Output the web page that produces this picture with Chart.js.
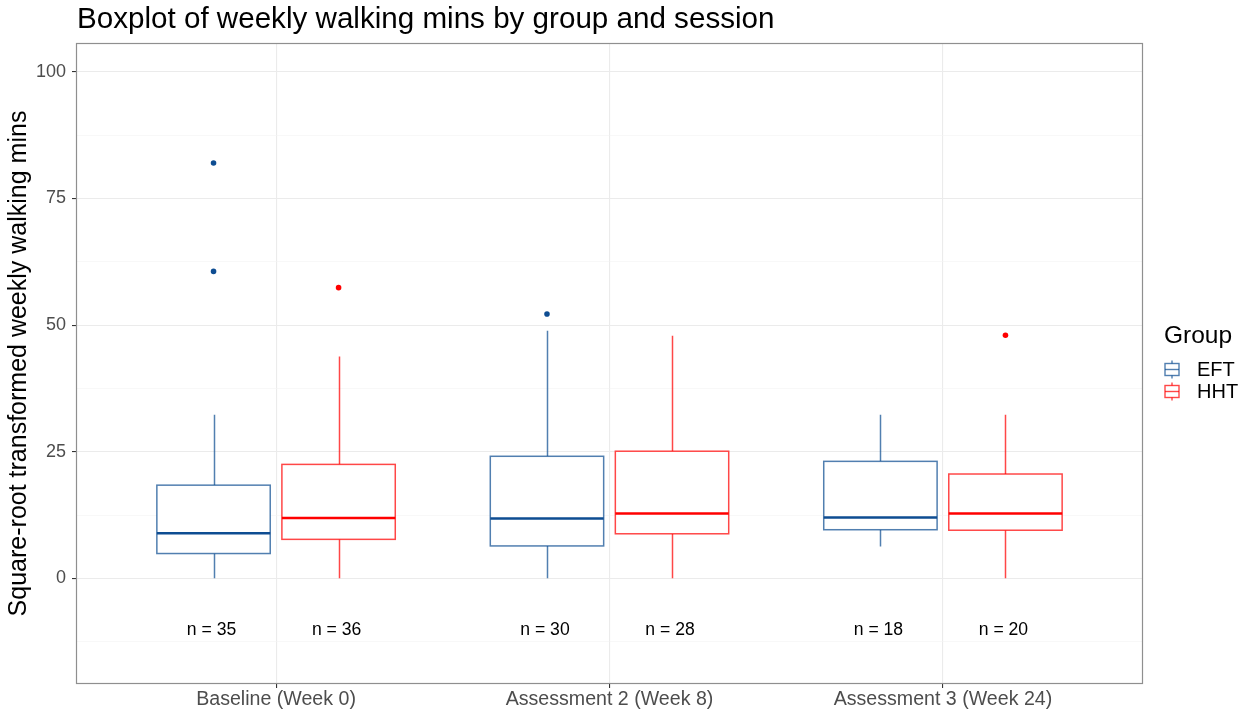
<!DOCTYPE html>
<html lang="en">
<head>
    <meta charset="UTF-8">
    <title>boxplot</title>
    <script src="https://cdn.jsdelivr.net/npm/chart.js"></script>
    <style>
        html, body { margin: 0; padding: 0; background: #fff; }
        #wrap { width: 1254px; height: 714px; }
    </style>
</head>
<body>
<div id="wrap"><canvas id="boxChart" width="1254" height="714"></canvas></div>
<script>
    // categories and tick labels
    const categories = ['Baseline (Week 0)', 'Assessment 2 (Week 8)', 'Assessment 3 (Week 24)'];
    const yTicks = [-12.5, 0, 12.5, 25, 37.5, 50, 62.5, 75, 87.5, 100];

    // EFT group
    const eftMin = [0, 0, 6.3];
    const eftQ1 = [4.9, 6.4, 9.6];
    const eftMedian = [8.9, 11.8, 12.0];
    const eftQ3 = [18.4, 24.1, 23.1];
    const eftMax = [32.3, 48.9, 32.3];
    const eftOutliers = [[82.0, 60.6], [52.2], []];
    const eftN = [35, 30, 18];

    // HHT group
    const hhtMin = [0, 0, 0];
    const hhtQ1 = [7.7, 8.8, 9.5];
    const hhtMedian = [11.9, 12.8, 12.8];
    const hhtQ3 = [22.5, 25.1, 20.6];
    const hhtMax = [43.8, 47.9, 32.3];
    const hhtOutliers = [[57.4], [], [48.0]];
    const hhtN = [36, 28, 20];

    const FONT = "'Liberation Sans', Arial, Helvetica, sans-serif";
    Chart.defaults.font.family = FONT;

    const groups = [
        { name: 'EFT', offset: -0.1875, min: eftMin, q1: eftQ1, med: eftMedian, q3: eftQ3, max: eftMax,
          out: eftOutliers, n: eftN, dark: 'rgb(14,77,146)', line: 'rgba(14,77,146,0.72)' },
        { name: 'HHT', offset: 0.1875, min: hhtMin, q1: hhtQ1, med: hhtMedian, q3: hhtQ3, max: hhtMax,
          out: hhtOutliers, n: hhtN, dark: 'rgb(255,0,0)', line: 'rgba(255,0,0,0.72)' }
    ];
    const boxHalf = 0.17;

    const boxPlugin = {
        id: 'boxes',
        beforeDatasetsDraw(chart) {
            const { ctx, scales: { x, y } } = chart;
            ctx.save();
            groups.forEach(g => {
                categories.forEach((c, i) => {
                    const pos = i + 1 + g.offset;
                    const cx = Math.round(x.getPixelForValue(pos)) + 0.5;
                    const left = x.getPixelForValue(pos - boxHalf);
                    const right = x.getPixelForValue(pos + boxHalf);
                    const yMin = y.getPixelForValue(g.min[i]);
                    const yQ1 = y.getPixelForValue(g.q1[i]);
                    const yMed = y.getPixelForValue(g.med[i]);
                    const yQ3 = y.getPixelForValue(g.q3[i]);
                    const yMax = y.getPixelForValue(g.max[i]);

                    ctx.strokeStyle = g.line;
                    ctx.lineWidth = 1.5;
                    ctx.beginPath();
                    ctx.moveTo(cx, yQ3); ctx.lineTo(cx, yMax);
                    ctx.moveTo(cx, yQ1); ctx.lineTo(cx, yMin);
                    ctx.stroke();

                    ctx.fillStyle = '#fff';
                    ctx.fillRect(left, yQ3, right - left, yQ1 - yQ3);
                    ctx.strokeRect(left, yQ3, right - left, yQ1 - yQ3);

                    ctx.strokeStyle = g.dark;
                    ctx.lineWidth = 2.5;
                    ctx.beginPath();
                    ctx.moveTo(left, yMed); ctx.lineTo(right, yMed);
                    ctx.stroke();
                });
            });
            ctx.restore();
        },
        afterDraw(chart) {
            const { ctx, chartArea: a, scales: { x, y } } = chart;
            ctx.save();
            // panel border
            ctx.strokeStyle = '#8f8f8f';
            ctx.lineWidth = 1.2;
            ctx.strokeRect(a.left + 0.5, a.top + 0.5, a.right - a.left - 1, a.bottom - a.top - 1);

            // title
            ctx.fillStyle = '#000';
            ctx.font = '29.6px ' + FONT;
            ctx.textAlign = 'left';
            ctx.textBaseline = 'middle';
            ctx.fillText('Boxplot of weekly walking mins by group and session', a.left + 1, 20);

            // n labels
            ctx.font = '17.6px ' + FONT;
            ctx.textAlign = 'center';
            groups.forEach(g => {
                categories.forEach((c, i) => {
                    ctx.fillText('n = ' + g.n[i], x.getPixelForValue(i + 1 + g.offset) - 2, y.getPixelForValue(-10.3));
                });
            });

            // legend
            ctx.textAlign = 'left';
            ctx.font = '24.5px ' + FONT;
            ctx.fillText('Group', 1164, 336);
            ctx.font = '20px ' + FONT;
            groups.forEach((g, gi) => {
                const cy = 369.5 + gi * 22;
                const kx = 1172;
                ctx.strokeStyle = g.line;
                ctx.lineWidth = 1.4;
                ctx.beginPath();
                ctx.moveTo(kx, cy - 9); ctx.lineTo(kx, cy + 9);
                ctx.stroke();
                ctx.fillStyle = '#fff';
                ctx.fillRect(1165, cy - 6, 14, 12);
                ctx.strokeRect(1165, cy - 6, 14, 12);
                ctx.beginPath();
                ctx.moveTo(1165, cy); ctx.lineTo(1179, cy);
                ctx.stroke();
                ctx.fillStyle = '#000';
                ctx.fillText(g.name, 1197, cy + 1);
            });
            ctx.restore();
        }
    };

    const outlierSets = groups.map(g => ({
        label: g.name,
        data: g.out.flatMap((vals, i) => vals.map(v => ({ x: i + 1 + g.offset, y: v }))),
        backgroundColor: g.dark,
        borderColor: g.dark,
        pointRadius: 2.8,
        borderWidth: 0
    }));

    new Chart(document.getElementById('boxChart').getContext('2d'), {
        type: 'scatter',
        data: { datasets: outlierSets },
        plugins: [boxPlugin],
        options: {
            responsive: false,
            animation: false,
            layout: { padding: { top: 43, right: 111, left: 0, bottom: 0 } },
            plugins: { legend: { display: false }, tooltip: { enabled: false }, title: { display: false } },
            scales: {
                x: {
                    type: 'linear',
                    min: 0.4,
                    max: 3.6,
                    afterBuildTicks: s => { s.ticks = categories.map((c, i) => ({ value: i + 1 })); },
                    afterFit: s => { s.height = 30; },
                    ticks: {
                        autoSkip: false,
                        maxRotation: 0,
                        padding: 0,
                        color: '#4d4d4d',
                        font: { size: 19.6 },
                        callback: v => categories[v - 1]
                    },
                    grid: { color: '#ebebeb', lineWidth: 1.1, tickLength: 4, tickColor: '#333333' },
                    border: { display: false }
                },
                y: {
                    min: -20.86,
                    max: 105.7,
                    afterBuildTicks: s => { s.ticks = yTicks.map(v => ({ value: v })); },
                    afterFit: s => { s.width = 76; },
                    ticks: {
                        padding: 6,
                        color: '#4d4d4d',
                        font: { size: 18 },
                        callback: v => (v % 25 === 0 ? String(v) : '')
                    },
                    title: {
                        display: true,
                        text: 'Square-root transformed weekly walking mins',
                        color: '#000',
                        font: { size: 25 },
                        padding: { top: 4, bottom: 0 }
                    },
                    grid: {
                        color: c => (c.tick && c.tick.value % 25 === 0 ? '#ebebeb' : '#f4f4f4'),
                        lineWidth: c => (c.tick && c.tick.value % 25 === 0 ? 1.1 : 0.6),
                        tickLength: 4,
                        tickColor: c => (c.tick && c.tick.value % 25 === 0 ? '#333333' : 'rgba(0,0,0,0)')
                    },
                    border: { display: false }
                }
            }
        }
    });
</script>
</body>
</html>
